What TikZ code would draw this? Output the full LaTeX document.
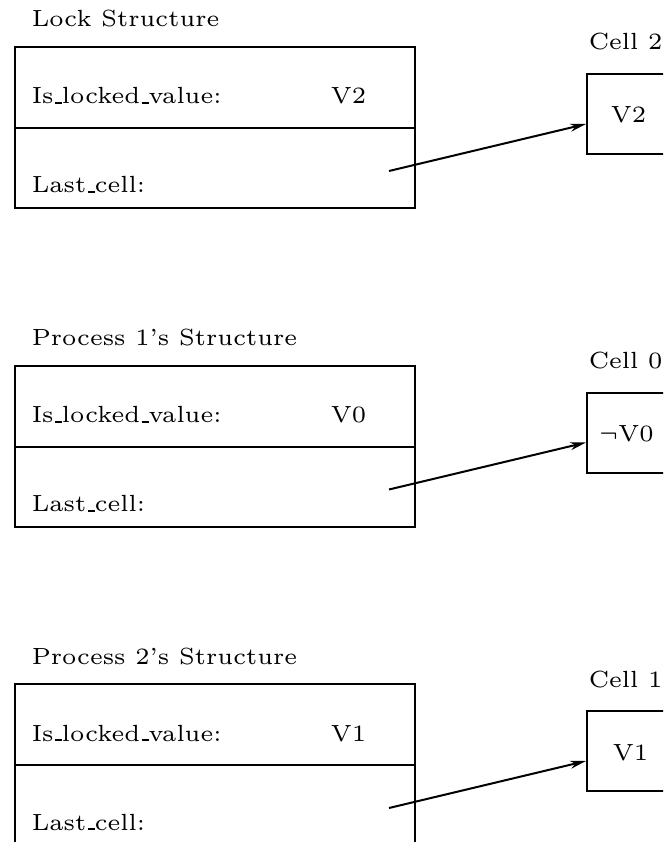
\documentclass[tikz,border=0pt]{standalone}
\usetikzlibrary{arrows.meta}
\newcommand\usc{\leavevmode\kern.06em\vbox{\hrule width.3em}}
\begin{document}
\begin{tikzpicture}[x=1pt,y=-1pt,
  lbl/.style={inner sep=0pt, anchor=base west, font=\fontsize{6}{7}\selectfont, scale=3.9, transform shape},
  field/.style={draw, line width=2pt, inner sep=0pt, anchor=north west, minimum width=400pt},
  cellbox/.style={draw, line width=2pt, inner sep=0pt, anchor=north west, minimum width=130pt, minimum height=80pt},
  arr/.style={line width=2pt, -{Stealth[length=16pt,width=8pt]}}]
\useasboundingbox (0,0) rectangle (663,842);
\clip (0,0) rectangle (663,842);
\foreach \i/\off/\title/\cnum/\val/\cval/\cx in {1/0/Lock Structure/2/V2/V2/610, 2/318.5/Process 1's Structure/0/V0/$\neg$V0/598, 3/637/Process 2's Structure/1/V1/V1/612}{
  \node[lbl] (title\i) at (31,{27+\off}) {\title};
  \node[field, minimum height=81pt] (upper\i) at (14,{46+\off}) {};
  \node[field, minimum height=80pt] (lower\i) at (14,{127+\off}) {};
  \node[lbl] (islk\i) at (31,{104+\off}) {Is\usc locked\usc value:};
  \node[lbl] (val\i) at (330,{104+\off}) {\val};
  \node[lbl] (last\i) at (31,{193+\off}) {Last\usc cell:};
  \node[lbl] (clab\i) at (588,{50+\off}) {Cell \cnum};
  \node[cellbox] (cell\i) at (586,{73+\off}) {};
  \node[lbl] (cval\i) at (\cx,{123+\off}) {\cval};
  \coordinate (s\i) at (389,{171+\off});
  \draw[arr] (s\i) -- ([yshift=-10pt]cell\i.west);
}
\end{tikzpicture}
\end{document}
